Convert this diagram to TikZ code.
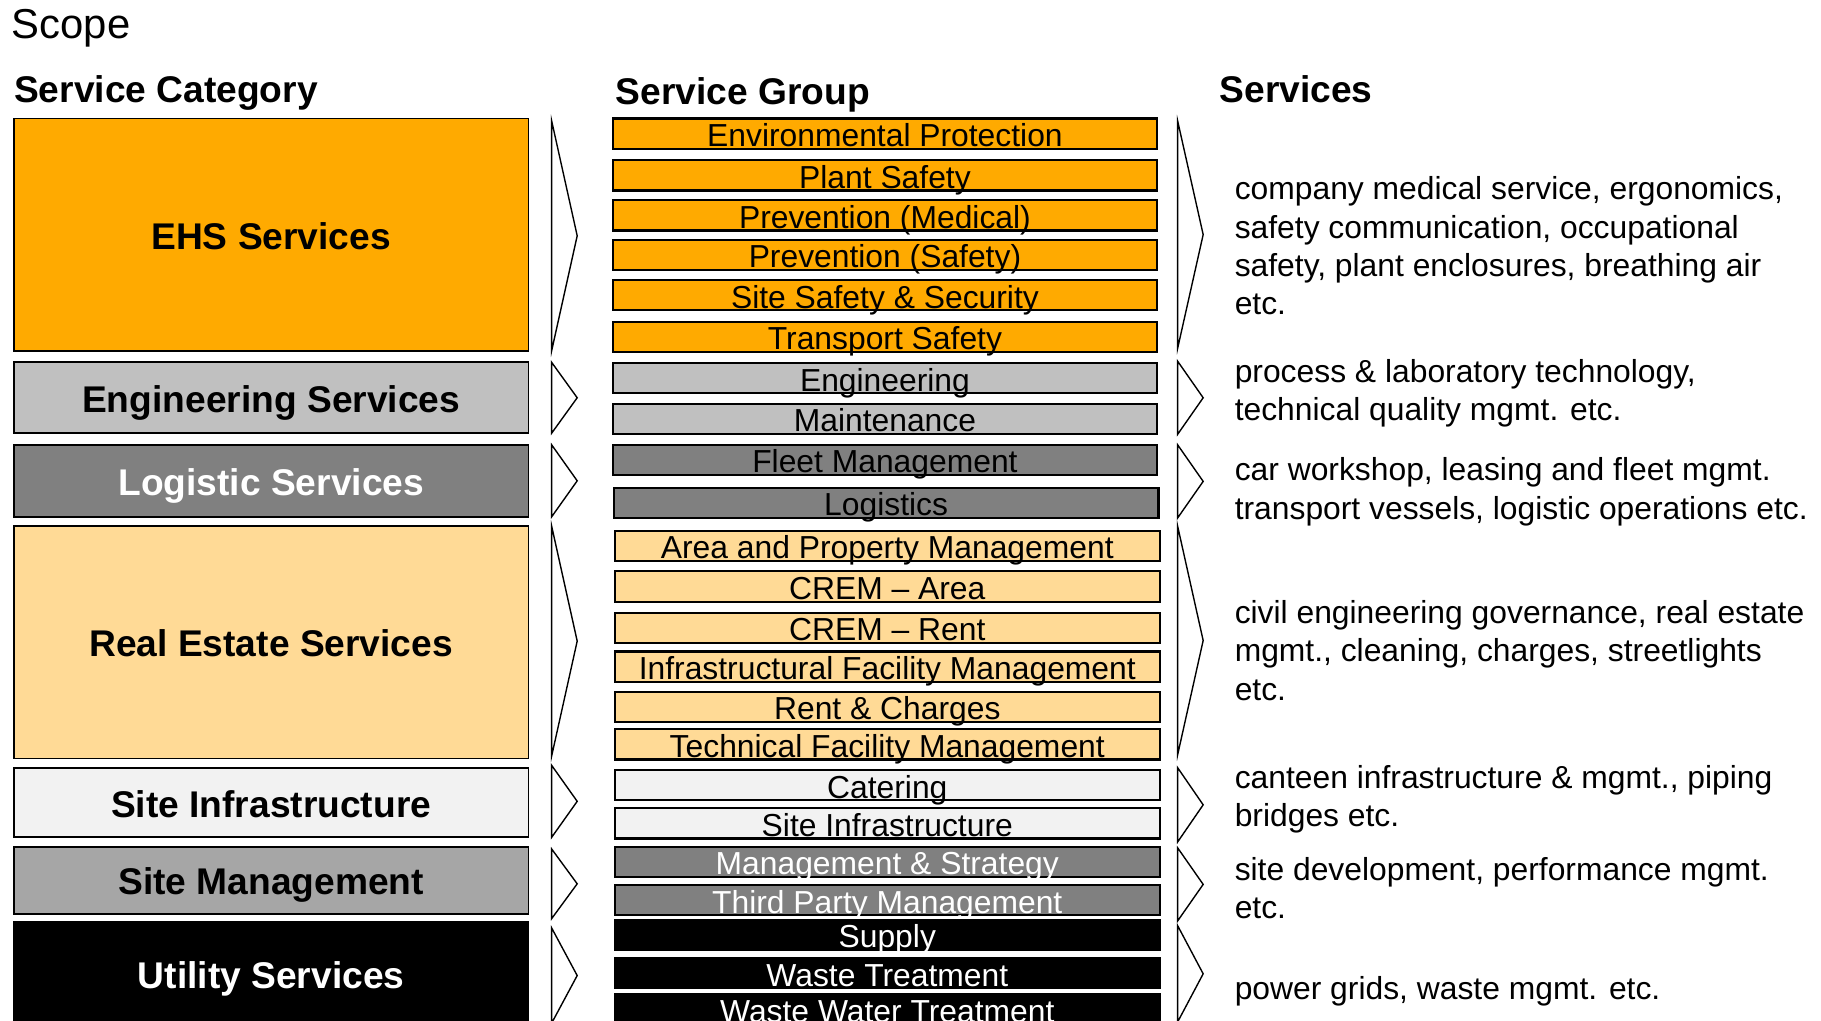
\documentclass[tikz,border=0pt]{standalone}
\usepackage{xcolor}
\usepackage{fontspec}
\setmainfont{Liberation Sans}
\usepackage{tikz}

\definecolor{ehsorange}{HTML}{FFAA00}
\definecolor{enggray}{HTML}{C0C0C0}
\definecolor{loggray}{HTML}{808080}
\definecolor{realtan}{HTML}{FFDA96}
\definecolor{infrawhite}{HTML}{F2F2F2}
\definecolor{mgmtgray}{HTML}{A6A6A6}

\newcommand{\catfont}{\fontsize{32}{38}\selectfont\bfseries}
\newcommand{\grpfont}{\fontsize{27.4}{33}\selectfont}
\newcommand{\scopefont}{\fontsize{36}{43}\selectfont}

\begin{document}
\begin{tikzpicture}[x=1pt, y=-1pt,
    catbox/.style={draw, rectangle, line width=1.5pt, minimum width=443pt, font=\catfont, text height=25pt, text depth=0pt, inner sep=0pt},
    grpbox/.style={draw, rectangle, line width=1.8pt, minimum width=469pt, minimum height=26pt, font=\grpfont, text height=22.4pt, text depth=0pt, inner sep=0pt},
    chev/.style={draw, line width=1.2pt, fill=white, line join=miter},
    svc/.style={anchor=base west, align=left, font=\grpfont, inner sep=0pt},
    head/.style={anchor=base west, font=\catfont, inner sep=0pt}]
                  \useasboundingbox (0,0) rectangle (1568,879);
                  \clip (0,0) rectangle (1568,879);

                  % Titles
                  \node [anchor=base west, font=\scopefont, inner sep=0pt] (scope) at (10,33) {Scope};
                  \node [head] (cathead) at (12,88) {Service Category};
                  \node [head] (grphead) at (530,90) {Service Group};
                  \node [head] (svchead) at (1050,88) {Services};

                  % Service Category
                  \node [catbox, fill=ehsorange, minimum height=200pt] (ehs) at (233.5,202) {EHS Services};
                  \node [catbox, fill=enggray, minimum height=61pt] (eng) at (233.5,342.5) {Engineering Services};
                  \node [catbox, fill=loggray, text=white, minimum height=62pt] (log) at (233.5,414) {Logistic Services};
                  \node [catbox, fill=realtan, minimum height=200pt] (real) at (233.5,553) {Real Estate Services};
                  \node [catbox, fill=infrawhite, minimum height=60pt] (infra) at (233.5,691) {Site Infrastructure};
                  \node [catbox, fill=mgmtgray, minimum height=58pt] (mgmt) at (233.5,758) {Site Management};
                  \node [catbox, fill=black, text=white, minimum height=90pt] (util) at (233.5,839) {Utility Services};

                  % Chevrons between category and group
                  \draw [chev] (475,104) -- (497,203) -- (475,302) -- cycle;
                  \draw [chev] (475,312) -- (497,342.5) -- (475,373) -- cycle;
                  \draw [chev] (475,383) -- (497,414) -- (475,445) -- cycle;
                  \draw [chev] (475,453) -- (497,552) -- (475,651) -- cycle;
                  \draw [chev] (475,659) -- (497,690) -- (475,721) -- cycle;
                  \draw [chev] (475,731) -- (497,761) -- (475,791) -- cycle;
                  \draw [chev] (475,799) -- (497,840) -- (475,881) -- cycle;

                  % Service Group
                  \node [grpbox, fill=ehsorange] (envprot) at (762,115) {Environmental Protection};
                  \node [grpbox, fill=ehsorange] (plant) at (762,151) {Plant Safety};
                  \node [grpbox, fill=ehsorange] (prevmed) at (762,185.5) {Prevention (Medical)};
                  \node [grpbox, fill=ehsorange] (prevsafe) at (762,219.5) {Prevention (Safety)};
                  \node [grpbox, fill=ehsorange] (sitesafe) at (762,254) {Site Safety \& Security};
                  \node [grpbox, fill=ehsorange] (transport) at (762,290) {Transport Safety};
                  \node [grpbox, fill=enggray] (engin) at (762,325.5) {Engineering};
                  \node [grpbox, fill=enggray] (maint) at (762,360.5) {Maintenance};
                  \node [grpbox, fill=loggray] (fleet) at (762,396) {Fleet Management};
                  \node [grpbox, fill=loggray] (logist) at (763,433) {Logistics};
                  \node [grpbox, fill=realtan] (areaprop) at (764,470) {Area and Property Management};
                  \node [grpbox, fill=realtan] (cremarea) at (764,505) {CREM -- Area};
                  \node [grpbox, fill=realtan] (cremrent) at (764,540.5) {CREM -- Rent};
                  \node [grpbox, fill=realtan] (infrafm) at (764,574) {Infrastructural Facility Management};
                  \node [grpbox, fill=realtan] (rent) at (764,608.5) {Rent \& Charges};
                  \node [grpbox, fill=realtan] (techfm) at (764,641) {Technical Facility Management};
                  \node [grpbox, fill=infrawhite] (catering) at (764,676) {Catering};
                  \node [grpbox, fill=infrawhite] (siteinfra) at (764,709) {Site Infrastructure};
                  \node [grpbox, fill=loggray, text=white] (mgmtstrat) at (764,742) {Management \& Strategy};
                  \node [grpbox, fill=loggray, text=white] (thirdparty) at (764,775) {Third Party Management};
                  \node [grpbox, fill=black, text=white] (supply) at (764,805) {Supply};
                  \node [grpbox, fill=black, text=white] (waste) at (764,838) {Waste Treatment};
                  \node [grpbox, fill=black, text=white] (wastewater) at (764,869) {Waste Water Treatment};

                  % Chevrons between group and services
                  \draw [chev] (1014,104) -- (1036,202) -- (1014,300) -- cycle;
                  \draw [chev] (1014,311) -- (1036,342.5) -- (1014,374) -- cycle;
                  \draw [chev] (1014,383) -- (1036,414.5) -- (1014,446) -- cycle;
                  \draw [chev] (1014,453) -- (1036,551.5) -- (1014,650) -- cycle;
                  \draw [chev] (1014,661) -- (1036,693) -- (1014,725) -- cycle;
                  \draw [chev] (1014,730) -- (1036,761.5) -- (1014,793) -- cycle;
                  \draw [chev] (1014,797) -- (1036,838.5) -- (1014,880) -- cycle;

                  % Services (anchored at the last line)
                  \node [svc] (ehssvc) at (1063,271) {company medical service, ergonomics,\\safety communication, occupational\\safety, plant enclosures, breathing air\\etc.};
                  \node [svc] (engsvc) at (1063,362) {process \& laboratory technology,\\technical quality mgmt. etc.};
                  \node [svc] (logsvc) at (1063,447) {car workshop, leasing and fleet mgmt.\\transport vessels, logistic operations etc.};
                  \node [svc] (realsvc) at (1063,603) {civil engineering governance, real estate\\mgmt., cleaning, charges, streetlights\\etc.};
                  \node [svc] (infrasvc) at (1063,712) {canteen infrastructure \& mgmt., piping\\bridges etc.};
                  \node [svc] (mgmtsvc) at (1063,791) {site development, performance mgmt.\\etc.};
                  \node [svc] (utilsvc) at (1063,861) {power grids, waste mgmt. etc.};
              \end{tikzpicture}
\end{document}
